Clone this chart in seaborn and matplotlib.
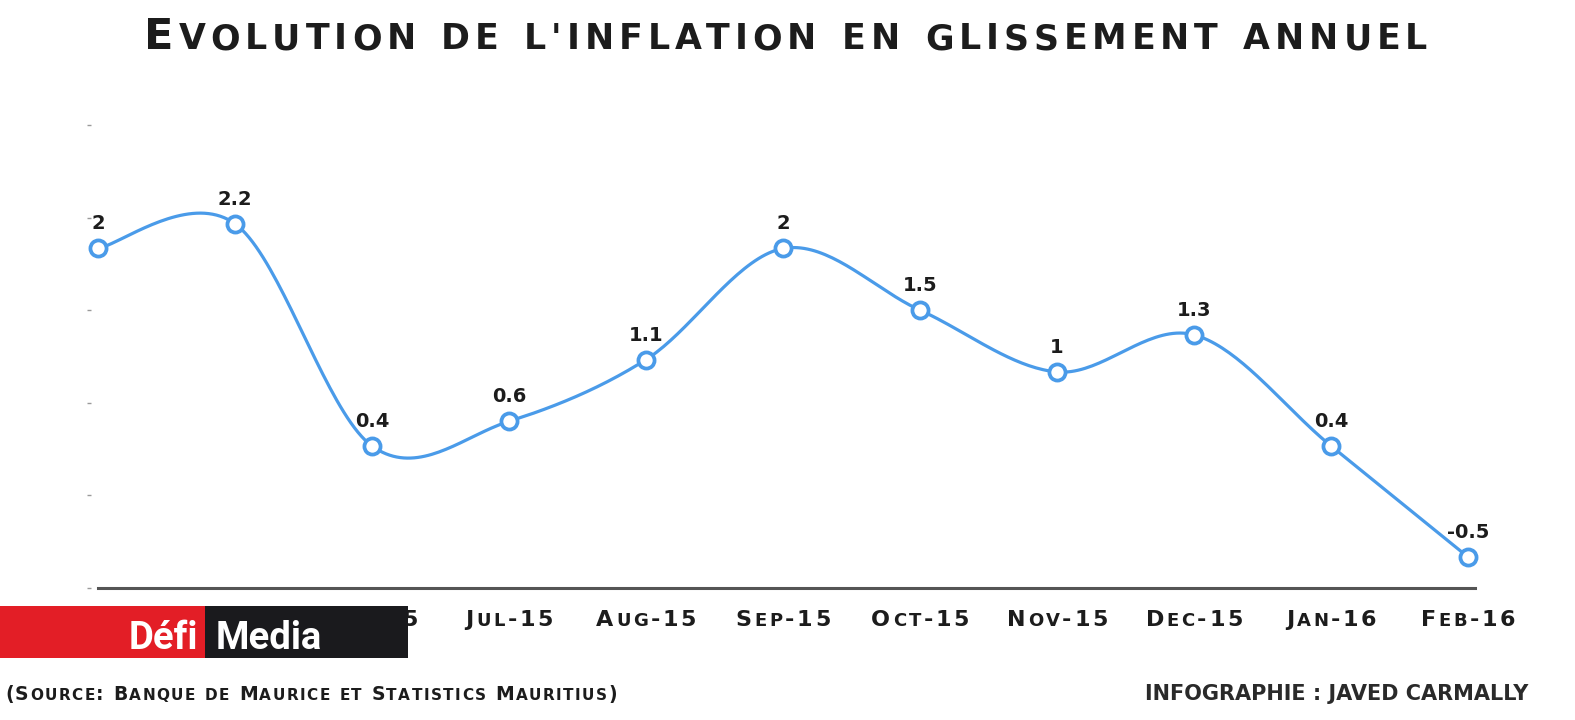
import numpy as np
import pandas as pd
import seaborn as sns
import matplotlib
matplotlib.use("Agg")
import matplotlib.pyplot as plt
from matplotlib.patches import Rectangle

# ---------------- data ----------------
months = ["Apr-15", "May-15", "Jun-15", "Jul-15", "Aug-15", "Sep-15",
          "Oct-15", "Nov-15", "Dec-15", "Jan-16", "Feb-16"]
inflation = [2.0, 2.2, 0.4, 0.6, 1.1, 2.0, 1.5, 1.0, 1.3, 0.4, -0.5]
value_labels = ["2", "2.2", "0.4", "0.6", "1.1", "2", "1.5", "1", "1.3", "0.4", "-0.5"]
title_text = "Evolution de l'inflation en glissement annuel"
source_text = "(Source: Banque de Maurice et Statistics Mauritius)"
credit_text = "INFOGRAPHIE : JAVED CARMALLY"

# ---------------- style ----------------
W, H = 1575, 720
BLUE = "#4a9be9"
DARK = "#1c1c1c"
sns.set_style("white")
plt.rcParams["font.family"] = ["DejaVu Sans"]

fig = plt.figure(figsize=(W / 100, H / 100), dpi=100)
fig.patch.set_facecolor("white")
ax = fig.add_axes([98 / W, 132 / H, 1377 / W, 463 / H])
ax.set_facecolor("white")

df = pd.DataFrame({"month": months, "value": inflation})
df["pos"] = np.arange(len(df))

# smooth cardinal (Catmull-Rom) curve through the points
xp = df["pos"].to_numpy(dtype=float)
yp = df["value"].to_numpy(dtype=float)
n = len(xp)
def tangents(p):
    m = np.empty_like(p)
    m[1:-1] = (p[2:] - p[:-2]) / 2
    m[0] = (p[1] - p[0]) / 2
    m[-1] = (p[-1] - p[-2]) / 2
    return m
mx, my = tangents(xp), tangents(yp)
t = np.linspace(0, 1, 40)
h00 = 2 * t**3 - 3 * t**2 + 1
h10 = t**3 - 2 * t**2 + t
h01 = -2 * t**3 + 3 * t**2
h11 = t**3 - t**2
sx, sy = [], []
for i in range(n - 1):
    sx.append(h00 * xp[i] + h10 * mx[i] + h01 * xp[i + 1] + h11 * mx[i + 1])
    sy.append(h00 * yp[i] + h10 * my[i] + h01 * yp[i + 1] + h11 * my[i + 1])
curve = pd.DataFrame({"x": np.concatenate(sx), "y": np.concatenate(sy)})

sns.lineplot(data=curve, x="x", y="y", ax=ax, color=BLUE, linewidth=2.3,
             sort=False, estimator=None, clip_on=False, zorder=3, legend=False)
sns.scatterplot(data=df, x="pos", y="value", ax=ax, s=135, color="white",
                edgecolor=BLUE, linewidth=2.7, zorder=4, clip_on=False, legend=False)

for i, (v, lab) in enumerate(zip(inflation, value_labels)):
    ax.annotate(lab, xy=(i, v), xytext=(0, 19), textcoords="offset pixels",
                ha="center", va="baseline", fontsize=14, fontweight="bold",
                color=DARK, zorder=5)

ax.set_xlim(0, 10.05)
ax.set_ylim(-0.75, 3.0)
ax.set_yticks([-0.75, 0, 0.75, 1.5, 2.25, 3.0])
ax.set_yticklabels([])
ax.set_xticks(df["pos"])
ax.set_xticklabels([])
ax.tick_params(axis="x", length=0)
ax.tick_params(axis="y", length=3, width=1, color="#9a9a9a", left=True)
for side in ["top", "right", "left"]:
    ax.spines[side].set_visible(False)
ax.spines["left"].set_position(("outward", 5))
ax.spines["bottom"].set_color("#555555")
ax.spines["bottom"].set_linewidth(2.2)
ax.set_xlabel("")
ax.set_ylabel("")

renderer = fig.canvas.get_renderer()

def smallcaps(s, x, y, big, small, tracking=0.0, width=None, ha="center",
              color=DARK, weight="bold", family="DejaVu Sans", zorder=3):
    items = []
    for ch in s:
        if ch == " ":
            items.append((None, big * 0.36 * 100 / 72))
            continue
        size = small if (ch.islower() or ch == "'") else big
        txt = fig.text(0, 0, ch.upper(), fontsize=size, family=family,
                       weight=weight, color=color, va="baseline", ha="left",
                       zorder=zorder)
        items.append((txt, txt.get_window_extent(renderer).width))
    glyphs = sum(w for _, w in items)
    if width is not None:
        tracking = (width - glyphs) / (len(items) - 1)
    total = glyphs + tracking * (len(items) - 1)
    if ha == "center":
        cur = x - total / 2
    elif ha == "left":
        cur = x
    else:
        cur = x - total
    for txt, w in items:
        if txt is not None:
            txt.set_position((cur / W, 1 - y / H))
        cur += w + tracking

# title
smallcaps(title_text, 786, 49, 31, 25, width=1283, weight="bold")

# x tick labels
for i, m in enumerate(months):
    px = ax.transData.transform((i, 0))[0]
    smallcaps(m, px, 626, 16, 13, tracking=2.6, weight="bold")

# source / credit
smallcaps(source_text, 5, 700, 13.5, 11, width=612, ha="left", weight="bold")
cred = fig.text(1145 / W, 1 - 700 / H, credit_text, fontsize=14,
                family=["Liberation Sans Narrow", "DejaVu Sans"], weight="bold",
                color="#2a2a2a", ha="left", va="baseline")
cw = cred.get_window_extent(renderer).width
cred.set_fontsize(14 * 386 / cw)

# logo
fig.add_artist(Rectangle((0, 1 - 658 / H), 205 / W, 52 / H,
                         transform=fig.transFigure, facecolor="#e31e26",
                         edgecolor="none", zorder=10))
fig.add_artist(Rectangle((205 / W, 1 - 658 / H), 203 / W, 52 / H,
                         transform=fig.transFigure, facecolor="#1a1a1d",
                         edgecolor="none", zorder=10))
fig.text(198 / W, 1 - 649 / H, "Défi", fontsize=27.5, family=["Roboto", "DejaVu Sans"],
         weight="bold", color="white", ha="right", va="baseline", zorder=11)
fig.text(216 / W, 1 - 649 / H, "Media", fontsize=27.5, family=["Roboto", "DejaVu Sans"],
         weight="bold", color="white", ha="left", va="baseline", zorder=11)

fig.savefig("out.png", dpi=100, facecolor="white")
